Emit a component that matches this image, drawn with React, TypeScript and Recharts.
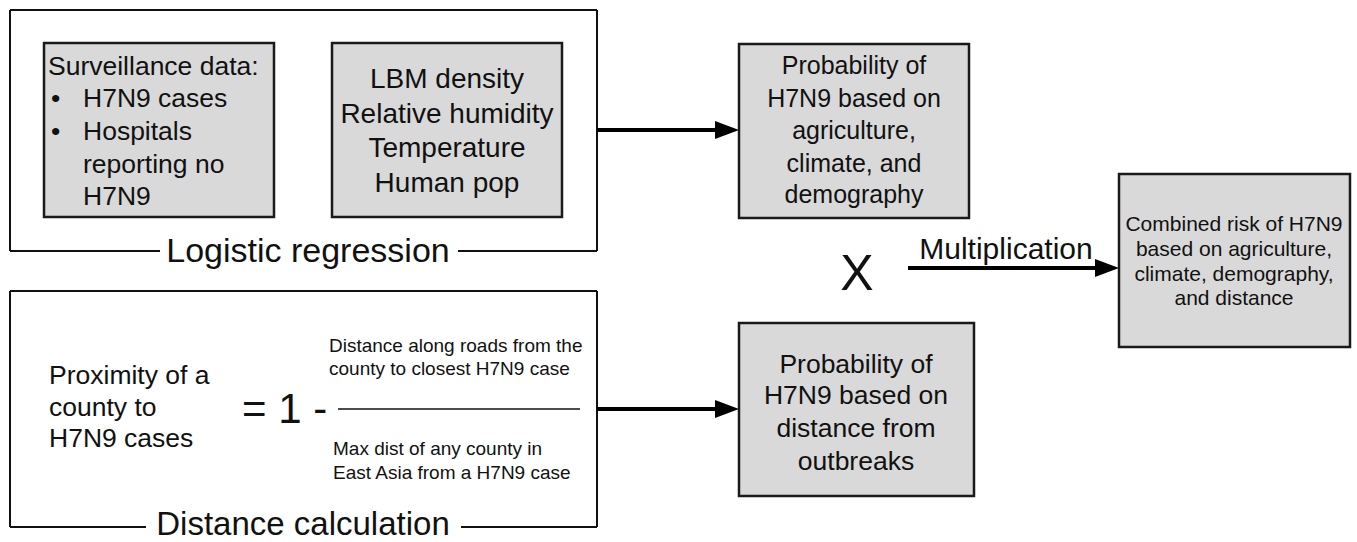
import React from 'react';
import { ScatterChart, Scatter, XAxis, YAxis, ReferenceArea, ReferenceLine } from 'recharts';

const W = 1357;
const H = 542;
const FONT = '"Liberation Sans", Arial, Helvetica, sans-serif';

// Grey process boxes (diagram units)
const boxes = [
  { id: 'surveillance', x1: 44, y1: 43, x2: 274, y2: 217 },
  { id: 'covariates', x1: 332, y1: 43, x2: 562, y2: 217 },
  { id: 'probAgri', x1: 739, y1: 44, x2: 969, y2: 218 },
  { id: 'probDist', x1: 739, y1: 323, x2: 974, y2: 496 },
  { id: 'combined', x1: 1119, y1: 174, x2: 1350, y2: 347 },
];

// Thin frame lines (group outlines with a gap for the title) and fraction bar
const frameSegments = [
  [{ x: 10, y: 10 }, { x: 597, y: 10 }],
  [{ x: 10, y: 10 }, { x: 10, y: 251 }],
  [{ x: 597, y: 10 }, { x: 597, y: 251 }],
  [{ x: 10, y: 251 }, { x: 160, y: 251 }],
  [{ x: 458, y: 251 }, { x: 597, y: 251 }],
  [{ x: 10, y: 291 }, { x: 597, y: 291 }],
  [{ x: 10, y: 291 }, { x: 10, y: 527 }],
  [{ x: 597, y: 291 }, { x: 597, y: 527 }],
  [{ x: 10, y: 527 }, { x: 146, y: 527 }],
  [{ x: 461, y: 527 }, { x: 597, y: 527 }],
];
const fractionBar = [{ x: 338, y: 409 }, { x: 580, y: 409 }];

// Arrow shafts and tips
const arrowShafts = [
  [{ x: 597, y: 130 }, { x: 716, y: 130 }],
  [{ x: 597, y: 409 }, { x: 718, y: 409 }],
  [{ x: 908, y: 268 }, { x: 1100, y: 268 }],
];
const arrowTips = [
  { x: 739, y: 130 },
  { x: 739, y: 409 },
  { x: 1119, y: 268 },
];

// Text lines: position = visual centre line of text
const surveillanceText = [
  { x: 48, y: 65, text: 'Surveillance data:', size: 26.5, anchor: 'start' },
  { x: 51, y: 97, text: '•', size: 26.5, anchor: 'start' },
  { x: 83, y: 97, text: 'H7N9 cases', size: 26.5, anchor: 'start' },
  { x: 51, y: 130, text: '•', size: 26.5, anchor: 'start' },
  { x: 83, y: 130, text: 'Hospitals', size: 26.5, anchor: 'start' },
  { x: 83, y: 163, text: 'reporting no', size: 26.5, anchor: 'start' },
  { x: 83, y: 195, text: 'H7N9', size: 26.5, anchor: 'start' },
];
const covariateText = [
  { x: 447, y: 78, text: 'LBM density', size: 28, anchor: 'middle' },
  { x: 447, y: 113, text: 'Relative humidity', size: 28, anchor: 'middle' },
  { x: 447, y: 147, text: 'Temperature', size: 28, anchor: 'middle' },
  { x: 447, y: 182, text: 'Human pop', size: 28, anchor: 'middle' },
];
const probAgriText = [
  { x: 854, y: 65, text: 'Probability of', size: 25, anchor: 'middle' },
  { x: 854, y: 98, text: 'H7N9 based on', size: 25, anchor: 'middle' },
  { x: 854, y: 130, text: 'agriculture,', size: 25, anchor: 'middle' },
  { x: 854, y: 163, text: 'climate, and', size: 25, anchor: 'middle' },
  { x: 854, y: 194, text: 'demography', size: 25, anchor: 'middle' },
];
const probDistText = [
  { x: 856, y: 363, text: 'Probability of', size: 26.5, anchor: 'middle' },
  { x: 856, y: 394, text: 'H7N9 based on', size: 26.5, anchor: 'middle' },
  { x: 856, y: 427, text: 'distance from', size: 26.5, anchor: 'middle' },
  { x: 856, y: 460, text: 'outbreaks', size: 26.5, anchor: 'middle' },
];
const combinedText = [
  { x: 1234, y: 223, text: 'Combined risk of H7N9', size: 21, anchor: 'middle' },
  { x: 1234, y: 248, text: 'based on agriculture,', size: 21, anchor: 'middle' },
  { x: 1234, y: 273, text: 'climate, demography,', size: 21, anchor: 'middle' },
  { x: 1234, y: 297, text: 'and distance', size: 21, anchor: 'middle' },
];
const titleText = [
  { x: 308, y: 250, text: 'Logistic regression', size: 34, anchor: 'middle' },
  { x: 303, y: 523, text: 'Distance calculation', size: 33, anchor: 'middle' },
  { x: 1006, y: 248, text: 'Multiplication', size: 30, anchor: 'middle' },
  { x: 857, y: 272, text: 'X', size: 50, anchor: 'middle' },
];
const formulaText = [
  { x: 49, y: 374, text: 'Proximity of a', size: 26.5, anchor: 'start' },
  { x: 49, y: 406, text: 'county to', size: 26.5, anchor: 'start' },
  { x: 49, y: 437, text: 'H7N9 cases', size: 26.5, anchor: 'start' },
  { x: 242, y: 408, text: '= 1 -', size: 42, anchor: 'start' },
  { x: 329, y: 345, text: 'Distance along roads from the', size: 19, anchor: 'start' },
  { x: 329, y: 368, text: 'county to closest H7N9 case', size: 19, anchor: 'start' },
  { x: 333, y: 448, text: 'Max dist of any county in', size: 19, anchor: 'start' },
  { x: 333, y: 472, text: 'East Asia from a H7N9 case', size: 19, anchor: 'start' },
];

const allText = [
  ...surveillanceText,
  ...covariateText,
  ...probAgriText,
  ...probDistText,
  ...combinedText,
  ...titleText,
  ...formulaText,
];

const TextShape = (props: any) => {
  const { cx, cy, payload } = props;
  if (cx == null || cy == null) return null;
  return (
    <text
      x={cx}
      y={cy}
      dy="0.36em"
      textAnchor={payload.anchor}
      fontSize={payload.size}
      fontFamily={FONT}
      fill="#111"
    >
      {payload.text}
    </text>
  );
};

const ArrowHead = (props: any) => {
  const { cx, cy } = props;
  if (cx == null || cy == null) return null;
  const len = 24;
  const half = 9;
  return <polygon points={`${cx},${cy} ${cx - len},${cy - half} ${cx - len},${cy + half}`} fill="#000" />;
};

export default function App() {
  return (
    <div style={{ position: 'absolute', left: 0, top: 0, width: W, height: H, background: '#fff' }}>
      <ScatterChart width={W} height={H} margin={{ top: 0, right: 0, bottom: 0, left: 0 }}>
        <XAxis type="number" dataKey="x" domain={[0, W]} hide allowDataOverflow />
        <YAxis type="number" dataKey="y" domain={[0, H]} reversed hide allowDataOverflow />
        {frameSegments.map((seg, i) => (
          <ReferenceLine key={`f${i}`} segment={seg} stroke="#111" strokeWidth={2} ifOverflow="visible" />
        ))}
        <ReferenceLine segment={fractionBar} stroke="#111" strokeWidth={1.5} ifOverflow="visible" />
        {arrowShafts.map((seg, i) => (
          <ReferenceLine key={`a${i}`} segment={seg} stroke="#000" strokeWidth={4} ifOverflow="visible" />
        ))}
        {boxes.map((b) => (
          <ReferenceArea
            key={b.id}
            x1={b.x1}
            x2={b.x2}
            y1={b.y1}
            y2={b.y2}
            fill="#d9d9d9"
            fillOpacity={1}
            stroke="#1a1a1a"
            strokeWidth={2.5}
            ifOverflow="visible"
          />
        ))}
        <Scatter data={arrowTips} shape={<ArrowHead />} isAnimationActive={false} />
        <Scatter data={allText} shape={<TextShape />} isAnimationActive={false} />
      </ScatterChart>
    </div>
  );
}
